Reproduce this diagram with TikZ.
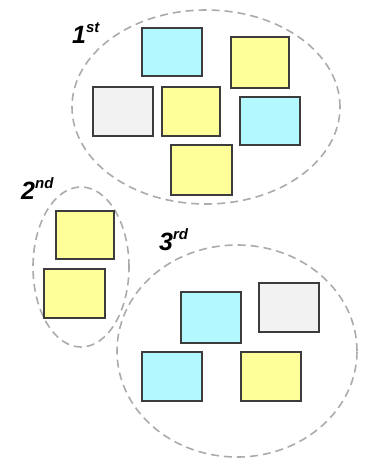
\documentclass[tikz,border=0pt]{standalone}
\usepackage{fontspec}
\setmainfont{Liberation Sans}
\definecolor{cyanfill}{HTML}{B4F8FF}
\definecolor{yelfill}{HTML}{FFFF99}
\definecolor{grayfill}{HTML}{F2F2F2}
\definecolor{boxline}{HTML}{3C3C3C}
\definecolor{dashline}{HTML}{ABABAB}
\newcommand{\ordlabel}[2]{{\fontsize{25}{25}\selectfont\bfseries\itshape #1\raisebox{0.42em}{\fontsize{15}{15}\selectfont #2}}}
\begin{document}
\begin{tikzpicture}[x=1pt,y=-1pt,
  card/.style={draw=boxline, line width=1.6pt, rectangle, minimum width=59pt, minimum height=49pt, inner sep=0pt},
  cy/.style={card, fill=cyanfill},
  ye/.style={card, fill=yelfill},
  gr/.style={card, fill=grayfill},
  group/.style={draw=dashline, line width=1.6pt, dash pattern=on 8pt off 5pt},
  ord/.style={anchor=base west, inner sep=0pt}]
\useasboundingbox (0,0) rectangle (365,459);
% groups
\draw[group] (206,107) ellipse [x radius=134pt, y radius=97pt];
\draw[group] (81,267) ellipse [x radius=48pt, y radius=80pt];
\draw[group] (237,351) ellipse [x radius=120pt, y radius=106pt];
% first group
\node[cy, minimum width=60pt, minimum height=48pt] (c1) at (172,52) {};
\node[ye, minimum width=58pt, minimum height=51pt] (y1) at (260,62.5) {};
\node[gr, minimum width=60pt] (g1) at (123,111.5) {};
\node[ye, minimum width=58pt] (y2) at (191,111.5) {};
\node[cy, minimum width=60pt, minimum height=48pt] (c2) at (270,121) {};
\node[ye, minimum width=61pt, minimum height=50pt] (y3) at (201.5,170) {};
% second group
\node[ye, minimum width=58pt, minimum height=48pt] (y4) at (85,235) {};
\node[ye, minimum width=61pt] (y5) at (74.5,293.5) {};
% third group
\node[cy, minimum width=60pt, minimum height=51pt] (c3) at (211,317.5) {};
\node[gr, minimum width=60pt] (g2) at (289,307.5) {};
\node[cy, minimum width=60pt] (c4) at (172,376.5) {};
\node[ye, minimum width=60pt] (y6) at (271,376.5) {};
% labels
\node[ord] (l1) at (72,43) {\ordlabel{1}{st}};
\node[ord] (l2) at (21,199) {\ordlabel{2}{nd}};
\node[ord] (l3) at (159,250) {\ordlabel{3}{rd}};
\end{tikzpicture}
\end{document}
